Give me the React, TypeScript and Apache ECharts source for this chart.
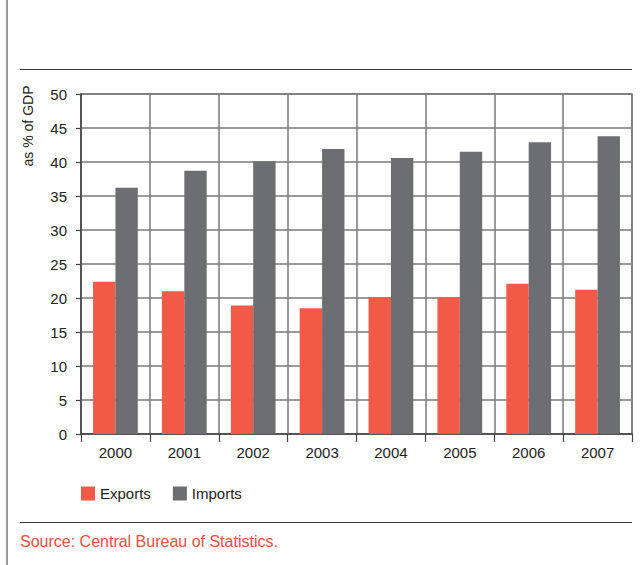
import React, { useEffect, useRef } from "react";
import * as echarts from "echarts";

const years = ["2000", "2001", "2002", "2003", "2004", "2005", "2006", "2007"];
const exportsPct = [22.4, 21.0, 18.9, 18.5, 20.1, 20.1, 22.1, 21.2];
const importsPct = [36.2, 38.7, 40.1, 41.9, 40.6, 41.5, 42.9, 43.8];
const yTicks = { min: 0, max: 50, interval: 5 };

const FONT = "'Liberation Sans Narrow', 'Liberation Sans', Arial, sans-serif";
const RED = "#F15A46";
const GREY = "#6D6E71";
const LINE = "#7a7a7a";

export default function App() {
  const ref = useRef<HTMLDivElement>(null);
  useEffect(() => {
    if (!ref.current) return;
    const chart = echarts.init(ref.current, undefined, { renderer: "svg" });
    chart.setOption({
      animation: false,
      backgroundColor: "#fff",
      grid: {
        left: 81,
        right: 10,
        top: 94,
        bottom: 131,
        show: true,
        borderColor: LINE,
        borderWidth: 1.5,
      },
      legend: {
        left: 76,
        top: 481,
        itemWidth: 14,
        itemHeight: 14,
        itemGap: 22,
        icon: "rect",
        textStyle: { fontFamily: FONT, fontSize: 15, color: "#222" },
        data: ["Exports", "Imports"],
      },
      xAxis: {
        type: "category",
        data: years,
        axisLine: { lineStyle: { color: "#444", width: 1.5 } },
        axisTick: { show: true, length: 8, lineStyle: { color: "#444", width: 1.2 } },
        axisLabel: { fontFamily: FONT, fontSize: 15, color: "#222", margin: 11 },
        splitLine: { show: true, lineStyle: { color: LINE, width: 1.5 } },
      },
      yAxis: {
        type: "value",
        min: yTicks.min,
        max: yTicks.max,
        interval: yTicks.interval,
        axisLine: { show: true, lineStyle: { color: "#444", width: 1.5 } },
        axisTick: { show: true, length: 5, lineStyle: { color: "#444", width: 1.2 } },
        axisLabel: { fontFamily: FONT, fontSize: 15, color: "#222", margin: 14 },
        splitLine: { show: true, lineStyle: { color: LINE, width: 1.5 } },
      },
      series: [
        {
          name: "Exports",
          type: "bar",
          data: exportsPct,
          itemStyle: { color: RED },
          barGap: "0%",
          barCategoryGap: "35%",
        },
        {
          name: "Imports",
          type: "bar",
          data: importsPct,
          itemStyle: { color: GREY },
          barGap: "0%",
          barCategoryGap: "35%",
        },
      ],
      graphic: [
        {
          type: "line",
          shape: { x1: 7, y1: 0, x2: 7, y2: 565 },
          style: { stroke: "#999", lineWidth: 2 },
        },
        {
          type: "line",
          shape: { x1: 20, y1: 69.5, x2: 632, y2: 69.5 },
          style: { stroke: "#333", lineWidth: 1.2 },
        },
        {
          type: "line",
          shape: { x1: 20, y1: 522.5, x2: 632, y2: 522.5 },
          style: { stroke: "#333", lineWidth: 1.2 },
        },
        {
          type: "text",
          x: 28,
          y: 126,
          rotation: Math.PI / 2,
          style: {
            text: "as % of GDP",
            fontFamily: FONT,
            fontSize: 14,
            fill: "#222",
            textAlign: "center",
            textVerticalAlign: "middle",
          },
        },
        {
          type: "text",
          x: 20,
          y: 541,
          style: {
            text: "Source: Central Bureau of Statistics.",
            fontFamily: "'Liberation Sans', Arial, sans-serif",
            fontSize: 16,
            fill: "#F04E45",
            textAlign: "left",
            textVerticalAlign: "middle",
          },
        },
      ],
    });
    return () => chart.dispose();
  }, []);
  return <div ref={ref} style={{ width: 642, height: 565, position: "absolute", left: 0, top: 0 }} />;
}
